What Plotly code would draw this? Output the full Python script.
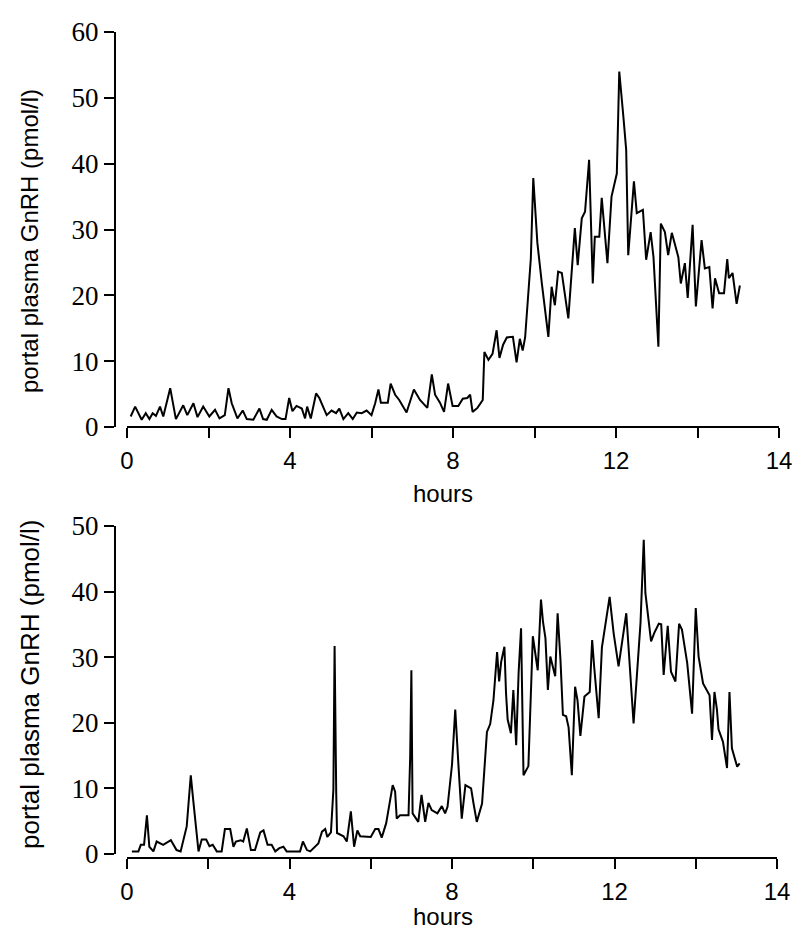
import plotly.graph_objects as go

# ---- Top panel data (hours, pmol/l) ----
top_hours = [0.09, 0.20, 0.36, 0.46, 0.55, 0.63, 0.71, 0.81, 0.89, 1.06, 1.20, 1.38, 1.48, 1.63, 1.73,
             1.87, 2.02, 2.16, 2.27, 2.40, 2.49, 2.57, 2.71, 2.84, 2.94, 3.10, 3.25, 3.34, 3.43, 3.55,
             3.67, 3.80, 3.89, 3.98, 4.06, 4.16, 4.29, 4.37, 4.42, 4.51, 4.64, 4.72, 4.90, 5.02, 5.13,
             5.21, 5.31, 5.43, 5.54, 5.64, 5.76, 5.88, 6.00, 6.09, 6.17, 6.23, 6.40, 6.47, 6.58, 6.68,
             6.86, 7.04, 7.19, 7.37, 7.48, 7.56, 7.68, 7.78, 7.88, 7.99, 8.13, 8.24, 8.35, 8.42, 8.48,
             8.60, 8.73, 8.77, 8.87, 8.97, 9.07, 9.14, 9.23, 9.32, 9.47, 9.56, 9.64, 9.71, 9.77, 9.89,
             9.91, 9.97, 10.04, 10.07, 10.18, 10.34, 10.42, 10.50, 10.58, 10.67, 10.83, 10.99, 11.06,
             11.16, 11.24, 11.34, 11.43, 11.48, 11.59, 11.65, 11.79, 11.89, 12.02, 12.08, 12.18, 12.25,
             12.30, 12.44, 12.51, 12.66, 12.74, 12.85, 12.92, 13.04, 13.10, 13.20, 13.28, 13.37, 13.53,
             13.59, 13.69, 13.76, 13.88, 13.96, 14.10, 14.18, 14.29, 14.37, 14.43, 14.53, 14.65, 14.73,
             14.77, 14.86, 14.96, 15.04]
top_gnrh = [1.6, 3.1, 1.1, 2.1, 1.2, 2.1, 1.7, 3.1, 1.6, 5.9, 1.2, 3.3, 1.8, 3.6, 1.5,
            3.1, 1.6, 2.6, 1.3, 1.8, 5.9, 3.6, 1.3, 2.5, 1.2, 1.1, 2.8, 1.2, 1.1, 2.6,
            1.6, 1.2, 1.2, 4.4, 2.4, 3.2, 2.8, 1.3, 3.1, 1.3, 5.1, 4.4, 1.8, 2.5, 2.1,
            2.8, 1.2, 2.1, 1.2, 2.2, 2.1, 2.5, 1.8, 3.6, 5.7, 3.7, 3.7, 6.6, 4.9, 4.1,
            2.2, 5.7, 4.1, 2.9, 8.0, 4.9, 3.7, 2.3, 6.6, 3.2, 3.2, 4.3, 4.4, 4.9, 2.3,
            2.9, 4.1, 11.4, 10.2, 11.1, 14.7, 10.5, 12.5, 13.6, 13.7, 9.8, 13.4, 11.6, 13.6, 25.4,
            25.6, 37.8, 32.0, 28.0, 21.8, 13.7, 21.3, 18.5, 23.6, 23.4, 16.5, 30.2, 24.6,
            31.7, 32.7, 40.6, 21.8, 28.9, 28.9, 34.8, 24.9, 35.0, 38.5, 54.0, 47.2, 42.1,
            26.1, 37.3, 32.5, 33.0, 25.4, 29.6, 25.8, 12.2, 30.9, 29.6, 26.1, 29.5, 25.8,
            21.8, 24.9, 19.6, 30.7, 18.3, 28.4, 24.1, 24.3, 18.0, 22.6, 20.3, 20.3, 25.5,
            22.6, 23.4, 18.7, 21.5]

# ---- Bottom panel data (hours, pmol/l) ----
bot_hours = [0.12, 0.28, 0.34, 0.42, 0.49, 0.55, 0.65, 0.73, 0.89, 1.08, 1.22, 1.32, 1.47, 1.57, 1.63,
             1.76, 1.84, 1.95, 2.03, 2.11, 2.21, 2.33, 2.41, 2.54, 2.62, 2.68, 2.80, 2.86, 2.95, 3.05,
             3.15, 3.28, 3.36, 3.46, 3.56, 3.65, 3.75, 3.85, 3.93, 4.26, 4.33, 4.43, 4.51, 4.63, 4.71,
             4.80, 4.88, 4.93, 5.02, 5.08, 5.11, 5.15, 5.17, 5.33, 5.41, 5.51, 5.59, 5.67, 5.74, 6.00,
             6.11, 6.19, 6.27, 6.38, 6.54, 6.60, 6.64, 6.72, 6.93, 6.97, 7.00, 7.03, 7.17, 7.25, 7.34,
             7.42, 7.50, 7.64, 7.75, 7.83, 7.89, 8.00, 8.08, 8.16, 8.24, 8.33, 8.47, 8.53, 8.61, 8.74,
             8.86, 8.94, 9.02, 9.11, 9.16, 9.21, 9.29, 9.33, 9.37, 9.45, 9.51, 9.58, 9.64, 9.70, 9.76,
             9.88, 9.99, 10.05, 10.11, 10.19, 10.24, 10.30, 10.36, 10.42, 10.49, 10.54, 10.60, 10.67,
             10.73, 10.81, 10.87, 10.95, 11.03, 11.09, 11.16, 11.26, 11.39, 11.45, 11.50, 11.61, 11.69,
             11.88, 11.98, 12.10, 12.29, 12.47, 12.64, 12.72, 12.76, 12.90, 12.98, 13.09, 13.15, 13.21,
             13.31, 13.39, 13.50, 13.59, 13.66, 13.79, 13.91, 14.00, 14.07, 14.18, 14.34, 14.40, 14.46,
             14.52, 14.56, 14.67, 14.77, 14.83, 14.89, 15.02, 15.08]
bot_gnrh = [0.4, 0.4, 1.4, 1.4, 5.9, 1.1, 0.4, 1.9, 1.4, 2.1, 0.6, 0.4, 4.2, 12.0, 8.2,
            0.4, 2.2, 2.2, 1.2, 1.4, 0.4, 0.4, 3.8, 3.8, 1.1, 1.9, 2.1, 1.9, 3.9, 0.6,
            0.6, 3.3, 3.6, 1.4, 1.4, 0.4, 0.9, 1.1, 0.4, 0.4, 1.9, 0.6, 0.4, 1.1, 1.6,
            3.4, 3.8, 2.6, 3.3, 9.8, 31.7, 9.3, 3.2, 2.7, 1.9, 6.5, 1.1, 3.6, 2.7, 2.6,
            3.8, 3.8, 2.5, 4.7, 10.5, 9.5, 5.4, 5.9, 5.9, 14.7, 28.0, 6.2, 4.9, 9.0, 4.9,
            7.8, 6.7, 6.2, 7.3, 6.2, 7.2, 13.6, 22.0, 13.4, 5.4, 10.5, 10.0, 7.7, 4.9, 7.7,
            18.6, 19.8, 23.4, 30.8, 26.3, 29.3, 31.6, 24.5, 20.5, 18.4, 25.0, 16.6, 27.7, 34.4, 12.0,
            13.4, 33.2, 30.6, 28.0, 38.8, 35.4, 32.9, 25.0, 30.1, 28.4, 27.1, 36.7, 29.6,
            21.2, 21.0, 19.3, 12.0, 25.5, 23.4, 18.0, 24.0, 24.7, 32.6, 28.5, 20.7, 31.5,
            39.2, 33.6, 28.6, 36.7, 19.9, 35.2, 47.9, 39.8, 32.4, 33.7, 35.1, 35.0, 27.3,
            34.8, 27.8, 26.3, 35.1, 34.2, 29.1, 21.4, 37.5, 30.1, 26.0, 24.2, 17.4, 24.7,
            22.1, 19.0, 17.1, 13.1, 24.7, 16.1, 13.3, 13.8]

x_tickvals = [0, 2, 4, 6, 8, 10, 12, 14, 16]
x_ticktext = ["0", "", "4", "", "8", "", "12", "", "14"]
top_yticks = [0, 10, 20, 30, 40, 50, 60]
bot_yticks = [0, 10, 20, 30, 40, 50]
y_title = "portal plasma GnRH (pmol/l)"
x_title = "hours"

# page body has an 8px margin; figure is sized to fill the rest of the 800x938 window
OFF = 8
W, H = 800 - OFF, 938 - OFF
def px(p):
    return (p - OFF) / W
def py(p):
    return 1 - (p - OFF) / H

fig = go.Figure()
fig.add_trace(go.Scatter(x=top_hours, y=top_gnrh, mode="lines",
                         line=dict(color="black", width=2), xaxis="x", yaxis="y", showlegend=False))
fig.add_trace(go.Scatter(x=bot_hours, y=bot_gnrh, mode="lines",
                         line=dict(color="black", width=2), xaxis="x2", yaxis="y2", showlegend=False))

xfont = dict(family="Liberation Sans, Arial", size=24, color="black")
yfont = dict(family="Liberation Serif, Times New Roman, serif", size=27, color="black")

common_x = dict(range=[0, 16], tickmode="array", tickvals=x_tickvals, ticktext=x_ticktext,
                ticks="outside", ticklen=10, tickwidth=2, tickcolor="black",
                showline=True, linewidth=2, linecolor="black", showgrid=False, zeroline=False,
                tickfont=xfont, automargin=False, ticklabelstandoff=2)
common_y = dict(ticks="outside", ticklen=10, tickwidth=2, tickcolor="black",
                showline=True, linewidth=2, linecolor="black", showgrid=False, zeroline=False,
                tickfont=yfont, anchor="free", position=px(115), automargin=False)

fig.update_layout(
    width=W, height=H, margin=dict(l=0, r=0, t=0, b=0, pad=0, autoexpand=False),
    paper_bgcolor="white", plot_bgcolor="white", showlegend=False,
    xaxis=dict(domain=[px(127), px(779)], anchor="free", position=py(427), **common_x),
    yaxis=dict(domain=[py(427), py(32)], range=[0, 60], tickvals=top_yticks, **common_y),
    xaxis2=dict(domain=[px(127), px(777)], anchor="free", position=py(858), **common_x),
    yaxis2=dict(domain=[py(854), py(526)], range=[0, 50], tickvals=bot_yticks, **common_y),
)

hfont = dict(family="Liberation Sans, Arial", size=24, color="black")
fig.add_annotation(x=px(30), y=py(241), xref="paper", yref="paper", text=y_title, textangle=-90,
                   showarrow=False, font=dict(family="Liberation Sans, Arial", size=24, color="black"),
                   xanchor="center", yanchor="middle")
fig.add_annotation(x=px(30), y=py(685), xref="paper", yref="paper", text=y_title, textangle=-90,
                   showarrow=False, font=dict(family="Liberation Sans, Arial", size=26, color="black"),
                   xanchor="center", yanchor="middle")
fig.add_annotation(x=px(443), y=py(493), xref="paper", yref="paper", text=x_title,
                   showarrow=False, font=hfont, xanchor="center", yanchor="middle")
fig.add_annotation(x=px(443), y=py(916), xref="paper", yref="paper", text=x_title,
                   showarrow=False, font=hfont, xanchor="center", yanchor="middle")

fig.write_html("out.html")
